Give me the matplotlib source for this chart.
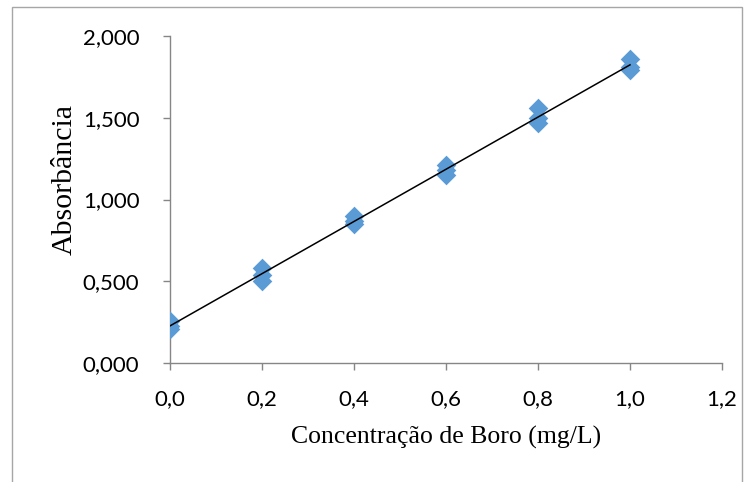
import matplotlib.pyplot as plt
import matplotlib.patches as patches
import numpy as np

# concentração (mg/L) e absorbâncias (replicatas)
conc = [0.0, 0.0, 0.0,
        0.2, 0.2, 0.2,
        0.4, 0.4, 0.4,
        0.6, 0.6, 0.6,
        0.8, 0.8, 0.8,
        1.0, 1.0, 1.0]
absorb = [0.255, 0.225, 0.205,
          0.58, 0.54, 0.50,
          0.90, 0.87, 0.85,
          1.21, 1.18, 1.15,
          1.56, 1.50, 1.47,
          1.86, 1.81, 1.79]

x_ticks = [0.0, 0.2, 0.4, 0.6, 0.8, 1.0, 1.2]
y_ticks = [0.0, 0.5, 1.0, 1.5, 2.0]
x_labels = ['0,0', '0,2', '0,4', '0,6', '0,8', '1,0', '1,2']
y_labels = ['0,000', '0,500', '1,000', '1,500', '2,000']

fig = plt.figure(figsize=(7.55, 4.82), dpi=100)
ax = fig.add_axes([170 / 755, 1 - 363 / 482, 552 / 755, 327 / 482])

# moldura externa
fig.patches.append(patches.Rectangle(
    (12 / 755, -0.05), 730 / 755, 1.05 - 7 / 482,
    transform=fig.transFigure, fill=False, edgecolor='#a6a6a6', lw=1.0))

ax.scatter(conc, absorb, marker='D', s=100, color='#5b9bd5', zorder=3,
           linewidths=0)

# linha de tendência (regressão linear)
a, b = np.polyfit(conc, absorb, 1)
xl = np.array([0.0, 1.0])
ax.plot(xl, a * xl + b, color='black', lw=1.1, zorder=4)

ax.set_xlim(0, 1.2)
ax.set_ylim(0, 2.0)
ax.set_xticks(x_ticks)
ax.set_xticklabels(x_labels)
ax.set_yticks(y_ticks)
ax.set_yticklabels(y_labels)

for s in ['top', 'right']:
    ax.spines[s].set_visible(False)
for s in ['left', 'bottom']:
    ax.spines[s].set_color('#868686')
    ax.spines[s].set_linewidth(1.0)

ax.tick_params(axis='both', colors='#868686', length=5, width=1.0,
               labelcolor='black', labelsize=16)
ax.tick_params(axis='y', pad=17)
ax.tick_params(axis='x', pad=14)
for lab in ax.get_xticklabels() + ax.get_yticklabels():
    lab.set_family('Lato')

ax.set_xlabel('Concentração de Boro (mg/L)', family='Liberation Serif',
              fontsize=18.5)
ax.xaxis.set_label_coords(0.5, -0.229)
ax.xaxis.label.set_va('center')
ax.set_ylabel('Absorbância', family='Liberation Serif', fontsize=21.5)
ax.yaxis.set_label_coords(-0.19, 0.56)
ax.yaxis.label.set_va('center')

fig.savefig('out.png', dpi=100)
